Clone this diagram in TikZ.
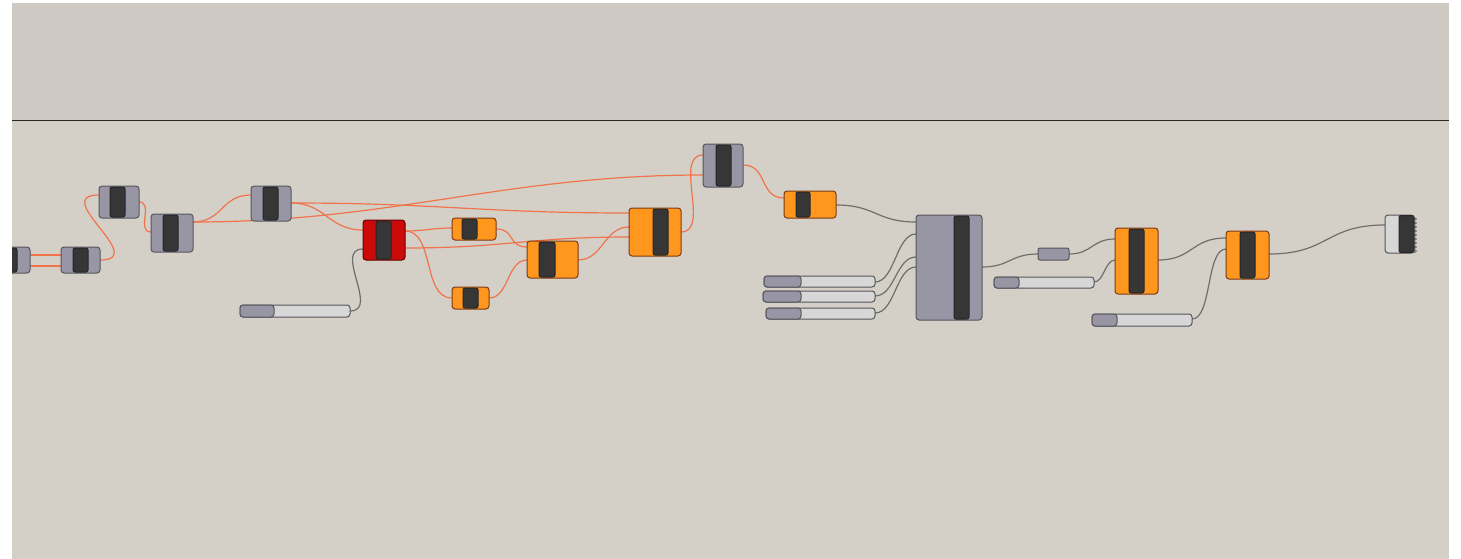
\documentclass[tikz,border=0pt]{standalone}
\usetikzlibrary{calc}
\pgfdeclarelayer{back}
\pgfdeclarelayer{wires}
\pgfsetlayers{back,wires,main}
\definecolor{bglo}{RGB}{212,208,200}
\definecolor{bghi}{RGB}{206,201,194}
\definecolor{gfill}{RGB}{152,150,165}
\definecolor{gline}{RGB}{85,85,92}
\definecolor{ofill}{RGB}{255,150,30}
\definecolor{oline}{RGB}{125,58,20}
\definecolor{rfill}{RGB}{205,10,10}
\definecolor{rline}{RGB}{100,0,0}
\definecolor{dk}{RGB}{54,54,54}
\definecolor{sl}{RGB}{215,215,215}
\definecolor{ow}{RGB}{240,115,75}
\definecolor{gw}{RGB}{110,110,108}
\definecolor{sep}{RGB}{40,40,40}
\tikzset{
 box/.style={rectangle, inner sep=0pt, outer sep=0pt, rounded corners=3pt, line width=1pt},
 gcomp/.style={box, fill=gfill, draw=gline},
 ocomp/.style={box, fill=ofill, draw=oline},
 rcomp/.style={box, fill=rfill, draw=rline},
 dkbar/.style={box, rounded corners=2pt, fill=dk, draw=black!85},
 slbody/.style={box, fill=sl, draw=gline},
 slknob/.style={box, fill=gfill, draw=gline},
 owire/.style={draw=ow, line width=1.2pt},
 gwire/.style={draw=gw, line width=1.2pt},
}
% style, name, x1, y1, x2, y2, bar x1, bar x2
\newcommand\cmpnt[8]{%
 \node[#1, minimum width={(#5)-(#3)}, minimum height={(#6)-(#4)}] (#2) at ({((#3)+(#5))/2},{((#4)+(#6))/2}) {};
 \node[dkbar, minimum width={(#8)-(#7)}, minimum height={(#6)-(#4)-2}] (#2-bar) at ({((#7)+(#8))/2},{((#4)+(#6))/2}) {};}
% name, x1, y1, x2, y2, split
\newcommand\slider[6]{%
 \node[slbody, minimum width={(#4)-(#2)}, minimum height={(#5)-(#3)}] (#1) at ({((#2)+(#4))/2},{((#3)+(#5))/2}) {};
 \node[slknob, minimum width={(#6)-(#2)}, minimum height={(#5)-(#3)}] (#1-k) at ({((#2)+(#6))/2},{((#3)+(#5))/2}) {};}
% style, from anchor, y, to anchor, y, pull
\newcommand\wire[6]{\draw[#1] (#2 |- 0,#3) .. controls +(#6,0) and +(-#6,0) .. (#4 |- 0,#5);}
\begin{document}
\begin{tikzpicture}[x=1pt,y=-1pt]
\useasboundingbox (0,0) rectangle (1461,559);
\begin{pgfonlayer}{back}
\fill[white] (0,0) rectangle (1461,559);
\fill[bglo] (12,3) rectangle (1449,559);
\fill[bghi] (12,3) rectangle (1449,120);
\draw[sep, line width=1.3pt] (12,120.5) -- (1449,120.5);
\end{pgfonlayer}
% components
\cmpnt{gcomp}{L0}{-10}{247}{30}{273}{2}{17}
\cmpnt{gcomp}{A}{61}{247}{100}{273}{73}{88}
\cmpnt{gcomp}{B}{99}{186}{139}{218}{110}{125}
\cmpnt{gcomp}{C}{151}{214}{193}{252}{163}{178}
\cmpnt{gcomp}{D}{251}{186}{291}{221}{263}{278}
\cmpnt{rcomp}{R}{363}{220}{405}{260}{376}{391}
\cmpnt{ocomp}{O1}{452}{218}{496}{240}{462}{477}
\cmpnt{ocomp}{O2}{452}{287}{489}{309}{463}{478}
\cmpnt{ocomp}{M}{527}{241}{578}{278}{539}{555}
\cmpnt{ocomp}{H}{629}{208}{681}{256}{653}{668}
\cmpnt{gcomp}{E}{703}{144}{743}{187}{716}{731}
\cmpnt{ocomp}{P}{784}{191}{836}{218}{796}{810}
\cmpnt{gcomp}{G}{916}{215}{982}{320}{954}{969}
\node[gcomp, rounded corners=2pt, minimum width=31, minimum height=12] (N) at (1053.5,254) {};
\cmpnt{ocomp}{Q}{1115}{228}{1158}{294}{1129}{1144}
\cmpnt{ocomp}{T}{1226}{231}{1269}{279}{1240}{1255}
\node[box, fill=sl, draw=gline, minimum width=29, minimum height=38] (W) at (1399.5,234) {};
\node[dkbar, minimum width=15, minimum height=37] (W-bar) at (1406.5,234) {};
\foreach \yy in {217,221,...,249} \draw[gline, line width=0.6pt] (1414,\yy) -- (1416.5,\yy+2) -- (1414,\yy+4);
% sliders
\slider{S1}{240}{305}{350}{317}{274}
\slider{S2}{764}{276}{875}{287}{801}
\slider{S3}{763}{291}{875}{302}{801}
\slider{S4}{766}{308}{875}{319}{801}
\slider{S5}{994}{277}{1094}{288}{1019}
\slider{S6}{1092}{314}{1192}{326}{1117}
% wires
\begin{pgfonlayer}{wires}
\wire{owire}{L0.east}{255}{A.west}{255}{10}
\wire{owire}{L0.east}{266}{A.west}{266}{10}
\wire{owire}{A.east}{260}{B.west}{195}{50}
\wire{owire}{B.east}{202}{C.west}{232}{15}
\wire{owire}{C.east}{222}{D.west}{195}{30}
\wire{owire}{C.east}{222}{E.west}{175}{200}
\wire{owire}{D.east}{203}{H.west}{213}{150}
\wire{owire}{D.east}{203}{R.west}{230}{35}
\wire{owire}{R.east}{231}{O1.west}{228}{20}
\wire{owire}{R.east}{231}{O2.west}{298}{30}
\wire{owire}{R.east}{248}{H.west}{237}{100}
\wire{owire}{O1.east}{229}{M.west}{247}{20}
\wire{owire}{O2.east}{298}{M.west}{260}{20}
\wire{owire}{M.east}{260}{H.west}{227}{25}
\wire{owire}{H.east}{232}{E.west}{155}{30}
\wire{owire}{E.east}{165}{P.west}{198}{25}
\wire{gwire}{S1.east}{311}{R.west}{249}{30}
\wire{gwire}{P.east}{205}{G.west}{222}{40}
\wire{gwire}{S2.east}{282}{G.west}{234}{20}
\wire{gwire}{S3.east}{296}{G.west}{257}{20}
\wire{gwire}{S4.east}{313}{G.west}{267}{20}
\wire{gwire}{G.east}{267}{N.west}{254}{28}
\wire{gwire}{N.east}{254}{Q.west}{239}{23}
\wire{gwire}{S5.east}{282}{Q.west}{260}{10}
\wire{gwire}{Q.east}{260}{T.west}{238}{35}
\wire{gwire}{S6.east}{319}{T.west}{249}{20}
\wire{gwire}{T.east}{254}{W.west}{225}{60}
\end{pgfonlayer}
\fill[white] (0,0) rectangle (12,559);
\end{tikzpicture}
\end{document}
